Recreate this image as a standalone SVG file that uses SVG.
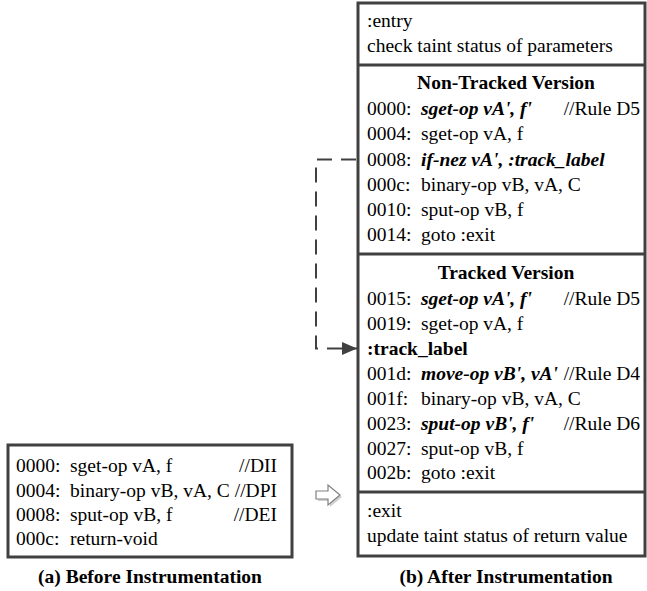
<svg xmlns="http://www.w3.org/2000/svg" width="647" height="591" viewBox="0 0 647 591">
<style>
.t{font-family:"Liberation Serif","Times New Roman",serif;font-size:19.5px;fill:#000}
.b{font-weight:bold}
.bi{font-weight:bold;font-style:italic}
.e{text-anchor:end}
.m{text-anchor:middle}
.box{fill:#fff;stroke:#404040;stroke-width:3}
.dv{stroke:#404040;stroke-width:3}
.conn{fill:none;stroke:#404040;stroke-width:2;stroke-dasharray:15 9}
</style>
<defs>
<marker id="ah" markerUnits="userSpaceOnUse" markerWidth="15" markerHeight="13" refX="15" refY="6.5" orient="auto">
<path d="M0,0 L15,6.5 L0,13 z" fill="#404040"/>
</marker>
</defs>

<g id="before">
<rect class="box" x="8" y="445" width="284" height="112"/>
<text class="t" x="16" y="472">0000:</text><text class="t" x="70" y="472">sget-op vA, f</text><text class="t e" x="277" y="472">//DII</text>
<text class="t" x="16" y="497">0004:</text><text class="t" x="70" y="497">binary-op vB, vA, C</text><text class="t e" x="277" y="497">//DPI</text>
<text class="t" x="16" y="521">0008:</text><text class="t" x="70" y="521">sput-op vB, f</text><text class="t e" x="277" y="521">//DEI</text>
<text class="t" x="16" y="545">000c:</text><text class="t" x="70" y="545">return-void</text>
</g>

<g id="after">
<rect class="box" x="358" y="3" width="287" height="553"/>
<line class="dv" x1="358" y1="65" x2="645" y2="65"/>
<line class="dv" x1="358" y1="254" x2="645" y2="254"/>
<line class="dv" x1="358" y1="492" x2="645" y2="492"/>

<text class="t" x="367" y="27">:entry</text>
<text class="t" x="367" y="52">check taint status of parameters</text>

<text class="t b m" x="506" y="89">Non-Tracked Version</text>
<text class="t" x="367" y="115">0000:</text><text class="t bi" x="421" y="115">sget-op vA', f'</text><text class="t e" x="640" y="115">//Rule D5</text>
<text class="t" x="367" y="140">0004:</text><text class="t" x="421" y="140">sget-op vA, f</text>
<text class="t" x="367" y="166">0008:</text><text class="t bi" x="421" y="166">if-nez vA', :track_label</text>
<text class="t" x="367" y="191">000c:</text><text class="t" x="421" y="191">binary-op vB, vA, C</text>
<text class="t" x="367" y="216">0010:</text><text class="t" x="421" y="216">sput-op vB, f</text>
<text class="t" x="367" y="241">0014:</text><text class="t" x="421" y="241">goto :exit</text>

<text class="t b m" x="506" y="279">Tracked Version</text>
<text class="t" x="367" y="305">0015:</text><text class="t bi" x="421" y="305">sget-op vA', f'</text><text class="t e" x="640" y="305">//Rule D5</text>
<text class="t" x="367" y="330">0019:</text><text class="t" x="421" y="330">sget-op vA, f</text>
<text class="t b" x="367" y="355">:track_label</text>
<text class="t" x="367" y="380">001d:</text><text class="t bi" x="421" y="380">move-op vB', vA'</text><text class="t e" x="640" y="380">//Rule D4</text>
<text class="t" x="367" y="405">001f:</text><text class="t" x="421" y="405">binary-op vB, vA, C</text>
<text class="t" x="367" y="430">0023:</text><text class="t bi" x="421" y="430">sput-op vB', f'</text><text class="t e" x="640" y="430">//Rule D6</text>
<text class="t" x="367" y="455">0027:</text><text class="t" x="421" y="455">sput-op vB, f</text>
<text class="t" x="367" y="479">002b:</text><text class="t" x="421" y="479">goto :exit</text>

<text class="t" x="367" y="517">:exit</text>
<text class="t" x="367" y="542">update taint status of return value</text>
</g>

<g id="transform-arrow">
<polygon points="318,493 330,493 330,487 342,497 330,507 330,501 318,501" fill="#d0d0d0"/>
<polygon points="316,491 328,491 328,485 340,495 328,505 328,499 316,499" fill="#fff" stroke="#808080" stroke-width="1.2"/>
</g>

<g id="connectors">
<polyline class="conn" points="356,159.5 316,159.5 316,348.5 357,348.5" marker-end="url(#ah)"/>
</g>

<g id="captions">
<text class="t b m" x="150" y="583">(a) Before Instrumentation</text>
<text class="t b m" x="506" y="583">(b) After Instrumentation</text>
</g>
</svg>
